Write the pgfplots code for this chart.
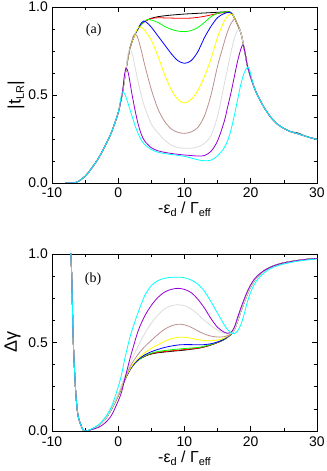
\documentclass[border=0pt]{standalone}
\usepackage{fontspec}
\setmainfont{Liberation Sans}
\newfontfamily\serifab{Liberation Serif}
\usepackage{pgfplots}
\pgfplotsset{compat=1.18}

% xmgrace default colours
\definecolor{ggreen}{RGB}{0,255,0}
\definecolor{gblue}{RGB}{0,0,255}
\definecolor{gyellow}{RGB}{255,255,0}
\definecolor{gbrown}{RGB}{188,143,143}
\definecolor{ggrey}{RGB}{220,220,220}
\definecolor{gviolet}{RGB}{148,0,211}
\definecolor{gcyan}{RGB}{0,255,255}

\newcommand{\sub}[1]{\raisebox{-0.35ex}{\fontsize{11}{12}\selectfont #1}}

\pgfplotsset{
  panel/.style={
    width=265bp, height=176bp, scale only axis,
    xmin=-10, xmax=30, ymin=0, ymax=1,
    xtick={-10,0,10,20,30}, minor x tick num=1,
    ytick={0,0.5,1}, minor y tick num=3,
    major tick length=5bp, minor tick length=3bp,
    axis line style={line width=0.8bp},
    every tick/.style={line width=0.6bp, black},
    tick label style={font=\fontsize{14}{16}\selectfont},
    /pgf/number format/assume math mode=true,
    yticklabel style={/pgf/number format/fixed, /pgf/number format/fixed zerofill, /pgf/number format/precision=1,
      anchor=east, inner sep=0pt, xshift=-4bp},
    xticklabel style={anchor=base, yshift=-15bp},
    xlabel style={at={(axis description cs:0.5,-0.176)}, anchor=base, font=\fontsize{16}{18}\selectfont},
    ylabel style={anchor=center, font=\fontsize{18}{20}\selectfont},
    every axis plot/.append style={line width=0.8bp, smooth, no marks},
  }
}

\begin{document}
\begin{tikzpicture}
\useasboundingbox (0,0) rectangle (327bp,471bp);

% ---------------- panel (a)
\begin{axis}[panel, at={(52bp,288bp)}, anchor=south west,
  xlabel={-ε\sub{d} / Γ\sub{eff}},
  ylabel={|t\sub{LR}|},
  ylabel style={at={(axis description cs:-0.136,0.5)}}]
% black
\addplot[black] coordinates {(-8,0) (-7,0) (-6.5,0.002) (-6,0.01) (-5,0.038) (-4,0.085) (-3,0.14) (-2,0.21) (-1,0.29) (0,0.40) (0.35,0.46) (0.67,0.52) (1.15,0.64) (1.65,0.745) (2,0.795) (2.5,0.842) (3.1,0.883) (3.8,0.913) (4.5,0.928)
 (5,0.936) (6,0.945) (7,0.95) (8,0.954) (9,0.957) (10,0.96) (11,0.962) (12,0.964) (13,0.966) (14,0.968) (15,0.97) (16,0.972) (16.8,0.973) (17.3,0.955) (17.6,0.933) (18,0.9) (18.3,0.875) (18.6,0.84) (18.9,0.785) (19.2,0.725)
 (19.5,0.665) (20,0.6) (20.5,0.545) (21,0.5) (22,0.43) (23,0.375) (24,0.335) (25,0.31) (26,0.292) (26.8,0.287) (27.3,0.282) (28,0.27) (29,0.258) (30,0.25)};
% red
\addplot[red] coordinates {(-8,0) (-7,0) (-6.5,0.002) (-6,0.01) (-5,0.038) (-4,0.085) (-3,0.14) (-2,0.21) (-1,0.29) (0,0.40) (0.35,0.46) (0.67,0.52) (1.15,0.64) (1.65,0.745) (2,0.795) (2.5,0.842) (3.1,0.883) (3.8,0.913) (4.5,0.928)
 (5,0.935) (6,0.939) (7,0.938) (8,0.937) (9,0.936) (10,0.936) (11,0.937) (12,0.941) (13,0.947) (14,0.955) (15,0.963) (16,0.969) (16.8,0.972) (17.3,0.955) (17.6,0.933) (18,0.9) (18.3,0.875) (18.6,0.84) (18.9,0.785) (19.2,0.725)
 (19.5,0.665) (20,0.6) (20.5,0.545) (21,0.5) (22,0.43) (23,0.375) (24,0.335) (25,0.31) (26,0.292) (27,0.281) (28,0.269) (29,0.257) (30,0.248)};
% green
\addplot[ggreen] coordinates {(-8,0) (-7,0) (-6.5,0.002) (-6,0.01) (-5,0.038) (-4,0.085) (-3,0.14) (-2,0.21) (-1,0.29) (0,0.40) (0.35,0.46) (0.67,0.52) (1.15,0.64) (1.65,0.745) (2,0.795) (2.5,0.842) (3.1,0.883) (3.8,0.915)
 (4.5,0.93) (5,0.926) (6,0.912) (7,0.89) (8,0.873) (9,0.863) (10,0.86) (11,0.866) (12,0.883) (13,0.912) (14,0.945) (15,0.964) (16,0.971) (16.8,0.972) (17.3,0.955) (17.6,0.933) (18,0.9) (18.3,0.875) (18.6,0.84) (18.9,0.785) (19.2,0.725)
 (19.5,0.665) (20,0.6) (20.5,0.545) (21,0.5) (22,0.43) (23,0.375) (24,0.335) (25,0.31) (26,0.292) (27,0.281) (28,0.269) (29,0.257) (30,0.248)};
% blue
\addplot[gblue] coordinates {(-8,0) (-7,0) (-6.5,0.002) (-6,0.01) (-5,0.038) (-4,0.085) (-3,0.14) (-2,0.21) (-1,0.29) (0,0.40) (0.35,0.46) (0.67,0.52) (1.15,0.64) (1.65,0.745) (2,0.795) (2.5,0.842) (3.1,0.885)
 (3.5,0.91) (3.8,0.92) (4.2,0.915) (5,0.885) (6,0.835) (7,0.785) (8,0.735) (9,0.695) (10,0.68) (11,0.695) (12,0.745) (13,0.825) (14,0.89) (15,0.94) (16,0.963) (16.8,0.97) (17.3,0.955) (17.6,0.933) (18,0.9) (18.3,0.875) (18.6,0.84) (18.9,0.785) (19.2,0.725)
 (19.5,0.665) (20,0.6) (20.5,0.545) (21,0.5) (22,0.43) (23,0.375) (24,0.335) (25,0.31) (26,0.292) (27,0.281) (28,0.269) (29,0.257) (30,0.248)};
% yellow
\addplot[gyellow] coordinates {(-8,0) (-7,0) (-6.5,0.002) (-6,0.01) (-5,0.038) (-4,0.085) (-3,0.14) (-2,0.21) (-1,0.29) (0,0.40) (0.35,0.46) (0.67,0.52) (1.15,0.64) (1.65,0.745) (2,0.795) (2.5,0.842)
 (2.8,0.87) (3.1,0.887) (3.5,0.885) (4,0.866) (5,0.81) (6,0.72) (7,0.615) (8,0.53) (9,0.475) (10,0.455) (11,0.475) (12,0.525) (13,0.605) (14,0.705) (15,0.83) (16,0.92) (16.5,0.948) (17,0.96) (17.3,0.955) (17.6,0.933) (18,0.9) (18.3,0.875) (18.6,0.84) (18.9,0.785) (19.2,0.725)
 (19.5,0.665) (20,0.6) (20.5,0.545) (21,0.5) (22,0.43) (23,0.375) (24,0.335) (25,0.31) (26,0.292) (27,0.281) (28,0.269) (29,0.257) (30,0.248)};
% brown
\addplot[gbrown] coordinates {(-8,0) (-7,0) (-6.5,0.002) (-6,0.01) (-5,0.038) (-4,0.085) (-3,0.14) (-2,0.21) (-1,0.29) (0,0.40) (0.35,0.46) (0.67,0.52) (1.15,0.64) (1.65,0.745)
 (2,0.8) (2.25,0.835) (2.5,0.846) (2.75,0.84) (3,0.82) (3.5,0.75) (4,0.67) (5,0.53) (6,0.42) (7,0.35) (8,0.307) (9,0.288) (10,0.282) (11,0.29) (12,0.315) (13,0.38) (14,0.5) (15,0.665) (16,0.8) (16.5,0.86) (17,0.905) (17.6,0.932) (18,0.9) (18.3,0.875) (18.6,0.84) (18.9,0.785) (19.2,0.725)
 (19.5,0.665) (20,0.6) (20.5,0.545) (21,0.5) (22,0.43) (23,0.375) (24,0.335) (25,0.31) (26,0.292) (27,0.281) (28,0.269) (29,0.257) (30,0.248)};
% grey
\addplot[ggrey] coordinates {(-8,0) (-7,0) (-6.5,0.002) (-6,0.01) (-5,0.038) (-4,0.085) (-3,0.14) (-2,0.21) (-1,0.29) (0,0.40) (0.35,0.46) (0.67,0.52) (1.15,0.64)
 (1.4,0.72) (1.65,0.76) (1.9,0.755) (2.2,0.72) (2.5,0.665) (3,0.575) (3.5,0.495) (4,0.43) (5,0.335) (6,0.285) (7,0.243) (8,0.215) (9,0.202) (10,0.197) (11,0.198) (12,0.205) (13,0.225) (14,0.27) (15,0.38) (16,0.56) (16.5,0.65) (17,0.74) (17.5,0.82) (17.9,0.86) (18.3,0.875) (18.6,0.84) (18.9,0.785) (19.2,0.725)
 (19.5,0.665) (20,0.6) (20.5,0.545) (21,0.5) (22,0.43) (23,0.375) (24,0.335) (25,0.31) (26,0.292) (27,0.281) (28,0.269) (29,0.257) (30,0.248)};
% violet
\addplot[gviolet] coordinates {(-8,0) (-7,0) (-6.5,0.002) (-6,0.01) (-5,0.038) (-4,0.085) (-3,0.14) (-2,0.21) (-1,0.29) (0,0.40) (0.35,0.46) (0.67,0.525)
 (0.9,0.605) (1.15,0.65) (1.35,0.645) (1.6,0.61) (2,0.52) (2.5,0.42) (3,0.335) (3.5,0.275) (4,0.238) (5,0.2) (6,0.183) (7,0.174) (8,0.168) (9,0.163) (10,0.159) (11,0.156) (12,0.153) (13,0.156) (14,0.18) (15,0.24) (16,0.35) (16.5,0.43) (17,0.51) (17.5,0.6) (18,0.69) (18.5,0.76) (18.85,0.785) (19.2,0.728)
 (19.5,0.665) (20,0.6) (20.5,0.545) (21,0.5) (22,0.43) (23,0.375) (24,0.335) (25,0.31) (26,0.292) (27,0.281) (28,0.269) (29,0.257) (30,0.248)};
% cyan
\addplot[gcyan] coordinates {(-8,0) (-7,0) (-6.5,0.002) (-6,0.01) (-5,0.038) (-4,0.085) (-3,0.14) (-2,0.21) (-1,0.29) (0,0.40) (0.3,0.46)
 (0.5,0.505) (0.7,0.518) (0.9,0.51) (1.2,0.485) (1.5,0.45) (2,0.39) (2.5,0.33) (3,0.28) (3.5,0.243) (4,0.218) (5,0.19) (6,0.175) (7,0.167) (8,0.162) (9,0.157) (10,0.151) (11,0.142) (12,0.132) (13,0.126) (14,0.13) (15,0.155) (16,0.2) (16.5,0.24) (17,0.3) (17.5,0.38) (18,0.47) (18.5,0.56) (19,0.625) (19.5,0.658) (19.8,0.645)
 (20.2,0.585) (20.5,0.545) (21,0.5) (22,0.43) (23,0.375) (24,0.335) (25,0.31) (26,0.292) (27,0.281) (28,0.269) (29,0.257) (30,0.248)};
\node[font=\serifab\fontsize{14}{16}\selectfont] at (axis cs:-3.7,0.87) {(a)};
\end{axis}

% ---------------- panel (b)
\begin{axis}[panel, at={(52bp,40bp)}, anchor=south west, height=177bp,
  xlabel={-ε\sub{d} / Γ\sub{eff}},
  ylabel={Δγ},
  ylabel style={at={(axis description cs:-0.149,0.5)}}]
% black
\addplot[black] coordinates {(-7.25,1.1) (-7.15,1.0) (-7.0,0.85) (-6.8,0.52) (-6.5,0.27) (-6.25,0.14) (-6,0.075) (-5.5,0.02) (-5.2,0.002) (-4.8,0.001) (-4.4,0.004) (-4,0.01)
 (-3,0.03) (-2,0.065) (-1,0.125) (0,0.2) (1,0.29) (2,0.36) (3,0.4) (4,0.422) (5,0.435) (6,0.442) (8,0.45) (10,0.457) (12,0.467) (13,0.475) (14,0.486) (15,0.5) (16,0.517) (17,0.545)
 (17.5,0.57) (18,0.62) (18.5,0.675) (19,0.725) (19.5,0.775) (20,0.815) (20.5,0.847) (21,0.872) (22,0.905) (23,0.926) (24,0.94) (25,0.95) (26,0.957) (27,0.963) (28,0.968) (29,0.972) (30,0.975)};
% red
\addplot[red] coordinates {(-7.25,1.1) (-7.15,1.0) (-7.0,0.85) (-6.8,0.52) (-6.5,0.27) (-6.25,0.14) (-6,0.075) (-5.5,0.02) (-5.2,0.002) (-4.8,0.001) (-4.4,0.004) (-4,0.01)
 (-3,0.03) (-2,0.065) (-1,0.125) (0,0.2) (1,0.29) (2,0.36) (3,0.4) (4,0.424) (5,0.437) (6,0.445) (8,0.453) (10,0.46) (12,0.468) (13,0.476) (14,0.487) (15,0.5) (16,0.517) (17,0.545)
 (17.5,0.57) (18,0.62) (18.5,0.675) (19,0.725) (19.5,0.775) (20,0.815) (20.5,0.847) (21,0.872) (22,0.905) (23,0.926) (24,0.94) (25,0.95) (26,0.957) (27,0.963) (28,0.968) (29,0.972) (30,0.975)};
% green
\addplot[ggreen] coordinates {(-7.25,1.1) (-7.15,1.0) (-7.0,0.85) (-6.8,0.52) (-6.5,0.27) (-6.25,0.14) (-6,0.075) (-5.5,0.02) (-5.2,0.002) (-4.8,0.001) (-4.4,0.004) (-4,0.01)
 (-3,0.03) (-2,0.065) (-1,0.125) (0,0.2) (1,0.29) (2,0.36) (3,0.4) (4,0.425) (5,0.44) (6,0.449) (8,0.459) (10,0.466) (12,0.472) (13,0.479) (14,0.489) (15,0.502) (16,0.518) (17,0.545)
 (17.5,0.57) (18,0.62) (18.5,0.675) (19,0.725) (19.5,0.775) (20,0.815) (20.5,0.847) (21,0.872) (22,0.905) (23,0.926) (24,0.94) (25,0.95) (26,0.957) (27,0.963) (28,0.968) (29,0.972) (30,0.975)};
% blue
\addplot[gblue] coordinates {(-7.25,1.1) (-7.15,1.0) (-7.0,0.85) (-6.8,0.52) (-6.5,0.27) (-6.25,0.14) (-6,0.075) (-5.5,0.02) (-5.2,0.002) (-4.8,0.001) (-4.4,0.004) (-4,0.01)
 (-3,0.03) (-2,0.065) (-1,0.125) (0,0.2) (1,0.29) (2,0.36) (3,0.403) (4,0.43) (5,0.448) (6,0.461) (7,0.472) (8,0.48) (9,0.486) (10,0.488) (11,0.488) (12,0.487) (13,0.488) (14,0.493) (15,0.503) (16,0.519) (17,0.546)
 (17.5,0.57) (18,0.62) (18.5,0.675) (19,0.725) (19.5,0.775) (20,0.815) (20.5,0.847) (21,0.872) (22,0.905) (23,0.926) (24,0.94) (25,0.95) (26,0.957) (27,0.963) (28,0.968) (29,0.972) (30,0.975)};
% yellow
\addplot[gyellow] coordinates {(-7.25,1.1) (-7.15,1.0) (-7.0,0.85) (-6.8,0.52) (-6.5,0.27) (-6.25,0.14) (-6,0.075) (-5.5,0.02) (-5.2,0.002) (-4.8,0.001) (-4.4,0.004) (-4,0.01)
 (-3,0.03) (-2,0.065) (-1,0.125) (0,0.2) (1,0.292) (2,0.365) (3,0.41) (4,0.442) (5,0.467) (6,0.488) (7,0.507) (8,0.521) (9,0.529) (10,0.53) (11,0.524) (12,0.516) (13,0.511) (14,0.51) (15,0.514) (16,0.525) (17,0.548)
 (17.5,0.57) (18,0.62) (18.5,0.675) (19,0.725) (19.5,0.775) (20,0.815) (20.5,0.847) (21,0.872) (22,0.905) (23,0.926) (24,0.94) (25,0.95) (26,0.957) (27,0.963) (28,0.968) (29,0.972) (30,0.975)};
% brown
\addplot[gbrown] coordinates {(-7.25,1.1) (-7.15,1.0) (-7.0,0.85) (-6.8,0.52) (-6.5,0.27) (-6.25,0.14) (-6,0.075) (-5.5,0.02) (-5.2,0.002) (-4.8,0.001) (-4.4,0.004) (-4,0.01)
 (-3,0.03) (-2,0.065) (-1,0.125) (0,0.205) (1,0.3) (2,0.378) (3,0.433) (4,0.477) (5,0.512) (6,0.546) (7,0.575) (8,0.594) (9,0.603) (10,0.6) (11,0.586) (12,0.566) (13,0.548) (14,0.536) (15,0.531) (16,0.533) (17,0.548)
 (17.5,0.57) (18,0.62) (18.5,0.675) (19,0.725) (19.5,0.775) (20,0.815) (20.5,0.847) (21,0.872) (22,0.905) (23,0.926) (24,0.94) (25,0.95) (26,0.957) (27,0.963) (28,0.968) (29,0.972) (30,0.975)};
% grey
\addplot[ggrey] coordinates {(-7.25,1.1) (-7.15,1.0) (-7.0,0.85) (-6.8,0.52) (-6.5,0.27) (-6.25,0.14) (-6,0.075) (-5.5,0.02) (-5.2,0.002) (-4.8,0.001) (-4.4,0.004) (-4,0.01)
 (-3,0.03) (-2,0.065) (-1,0.128) (0,0.21) (1,0.31) (2,0.4) (3,0.48) (4,0.55) (5,0.61) (6,0.655) (7,0.69) (8,0.708) (9,0.713) (10,0.708) (11,0.69) (12,0.66) (13,0.625) (14,0.595) (15,0.57) (16,0.553) (17,0.55)
 (17.5,0.57) (18,0.62) (18.5,0.675) (19,0.725) (19.5,0.775) (20,0.815) (20.5,0.847) (21,0.872) (22,0.905) (23,0.926) (24,0.94) (25,0.95) (26,0.957) (27,0.963) (28,0.968) (29,0.972) (30,0.975)};
% violet
\addplot[gviolet] coordinates {(-7.25,1.1) (-7.15,1.0) (-7.0,0.85) (-6.8,0.52) (-6.5,0.27) (-6.25,0.14) (-6,0.075) (-5.5,0.02) (-5.2,0.002) (-4.8,0.001) (-4.4,0.004) (-4,0.008)
 (-3,0.02) (-2,0.045) (-1,0.09) (0,0.17) (0.5,0.22) (1,0.295) (1.5,0.37) (2,0.44) (3,0.565) (4,0.65) (5,0.71) (6,0.755) (7,0.785) (8,0.8) (9,0.806) (10,0.8) (11,0.782) (12,0.745) (13,0.695) (14,0.635) (15,0.585) (16,0.558) (16.5,0.552) (17,0.556)
 (17.5,0.585) (18,0.64) (18.5,0.695) (19,0.745) (19.5,0.79) (20,0.827) (20.5,0.856) (21,0.877) (22,0.906) (23,0.926) (24,0.94) (25,0.95) (26,0.957) (27,0.963) (28,0.968) (29,0.972) (30,0.975)};
% cyan
\addplot[gcyan] coordinates {(-7.25,1.1) (-7.15,1.0) (-7.0,0.85) (-6.8,0.52) (-6.5,0.27) (-6.25,0.14) (-6,0.075) (-5.5,0.02) (-5.2,0.002) (-4.8,0.001) (-4.4,0.005) (-4,0.012)
 (-3,0.035) (-2,0.075) (-1,0.14) (0,0.25) (0.5,0.32) (1,0.41) (1.5,0.49) (2,0.56) (3,0.67) (4,0.765) (5,0.822) (6,0.85) (7,0.863) (8,0.868) (9,0.869) (10,0.866) (11,0.853) (12,0.83) (13,0.79) (14,0.73) (15,0.665) (16,0.6) (16.5,0.573) (17,0.556)
 (17.5,0.55) (18,0.565) (18.5,0.6) (19,0.66) (19.5,0.73) (20,0.785) (20.5,0.825) (21,0.855) (22,0.893) (23,0.918) (24,0.933) (25,0.944) (26,0.952) (27,0.959) (28,0.964) (29,0.968) (30,0.972)};
\node[font=\serifab\fontsize{14}{16}\selectfont] at (axis cs:-3.8,0.86) {(b)};
\end{axis}
\end{tikzpicture}
\end{document}
